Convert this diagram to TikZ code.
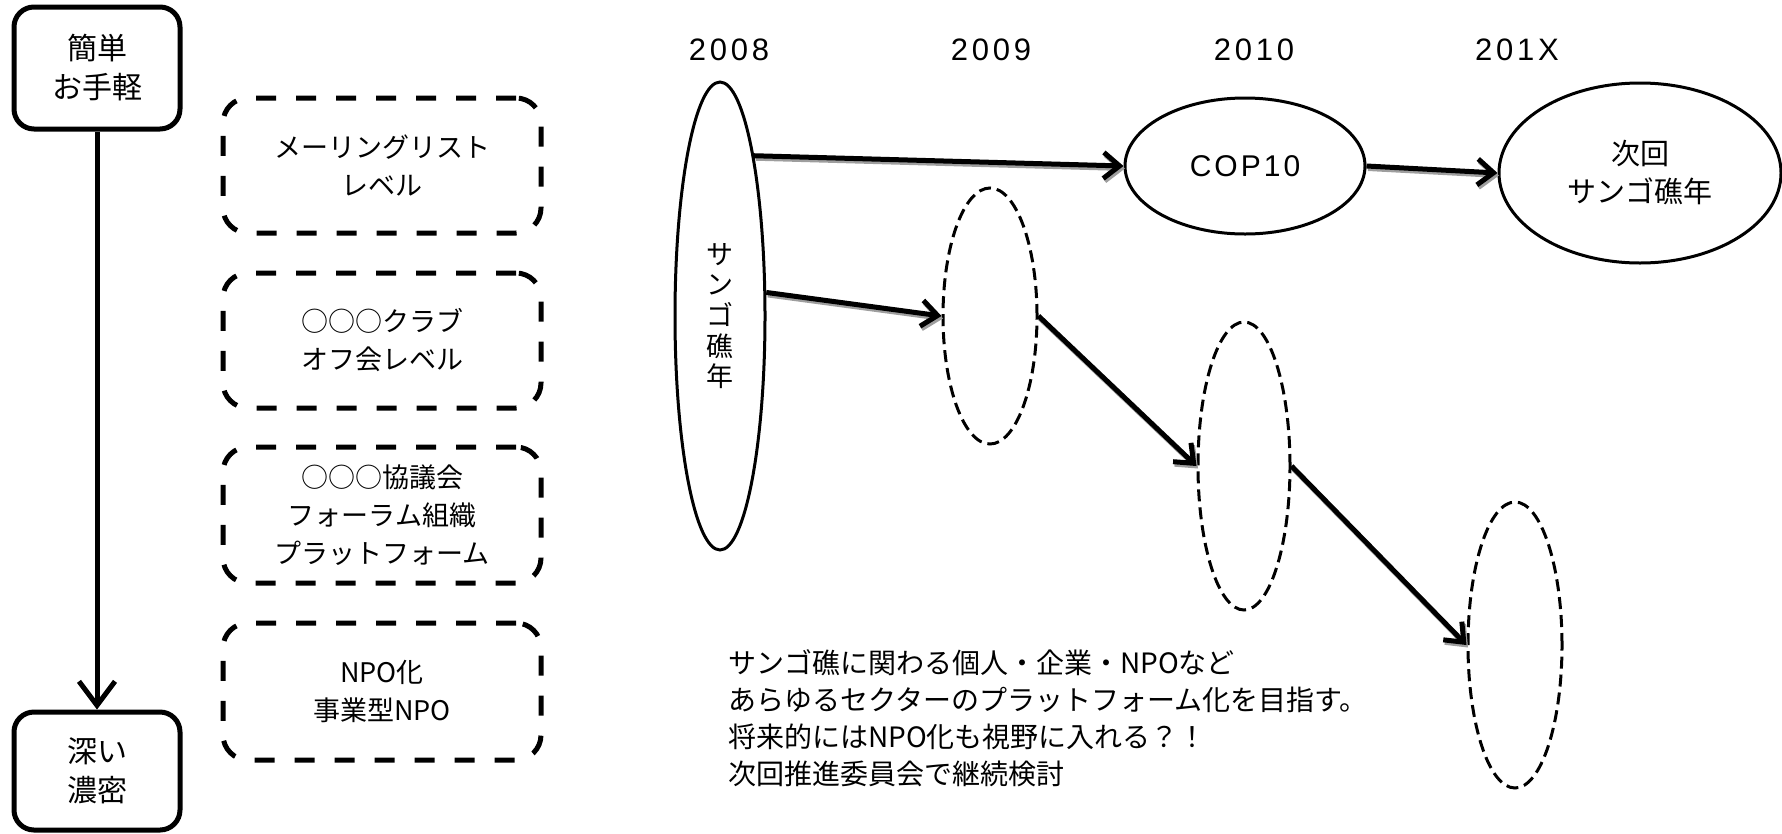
\documentclass[tikz,border=0pt]{standalone}
\usepackage{fontspec}
\setmainfont{Noto Sans CJK JP}
\newfontfamily\yearf[LetterSpace=12]{Liberation Sans}
\newfontfamily\copf[LetterSpace=10]{Liberation Sans}
\usetikzlibrary{shapes.geometric,arrows.meta}
\tikzset{
  endbox/.style={draw, line width=5pt, rounded corners=20pt, minimum width=166pt,
    inner sep=0pt, align=center, font=\fontsize{30}{39}\selectfont},
  levelbox/.style={draw, line width=5pt, dash pattern=on 20pt off 20pt, rounded corners=25pt,
    minimum width=318pt, inner sep=0pt, align=center, font=\fontsize{27}{38}\selectfont},
  yearlbl/.style={font=\yearf\fontsize{31}{36}\selectfont, inner sep=0pt},
  solidell/.style={draw, ellipse, line width=3pt, inner sep=0pt},
  dashell/.style={draw, ellipse, line width=3pt, dash pattern=on 12pt off 6pt, inner sep=0pt},
  flowtip/.style={line width=5pt, -{Straight Barb[length=16pt,width=26pt]}},
  flow/.style={flowtip, draw=black},
  flowshadow/.style={flowtip, draw=black!38},
  depth/.style={line width=5pt, -{Straight Barb[length=24pt,width=36pt]}},
  note/.style={anchor=west, align=left, inner sep=0pt, font=\fontsize{28}{37}\selectfont},
}
\begin{document}
\begin{tikzpicture}[x=1pt,y=-1pt]
\useasboundingbox (0,0) rectangle (1782,833);

% left scale
\node[endbox, minimum height=122pt] (easy) at (97,68) {簡単\\お手軽};
\node[endbox, minimum height=118pt] (deep) at (97,771) {深い\\濃密};
\draw[depth] (easy.south) -- (deep.north);

% level boxes
\node[levelbox, minimum height=135pt] (lv1) at (382,165.5) {メーリングリスト\\レベル};
\node[levelbox, minimum height=135pt] (lv2) at (382,340.5) {○○○クラブ\\オフ会レベル};
\node[levelbox, minimum height=136pt] (lv3) at (382,515) {○○○協議会\\フォーラム組織\\プラットフォーム};
\node[levelbox, minimum height=137pt] (lv4) at (382,691.5) {NPO化\\事業型NPO};

% years
\node[yearlbl] (y2008) at (729,50) {2008};
\node[yearlbl] (y2009) at (991,50) {2009};
\node[yearlbl] (y2010) at (1254,50) {2010};
\node[yearlbl] (y201x) at (1517,50) {201X};

% ellipses
\node[solidell, minimum width=90pt, minimum height=468pt, align=center,
  font=\fontsize{27}{30.6}\selectfont] (sango) at (720,316) {サ\\ン\\ゴ\\礁\\年};
\node[solidell, minimum width=240pt, minimum height=136pt,
  font=\copf\fontsize{30}{36}\selectfont] (cop) at (1245,166) {COP10};
\node[solidell, minimum width=282pt, minimum height=180pt, align=center,
  font=\fontsize{29}{38}\selectfont] (next) at (1640,173) {次回\\サンゴ礁年};
\node[dashell, minimum width=94pt, minimum height=256pt] (e2009) at (990,316) {};
\node[dashell, minimum width=92pt, minimum height=288pt] (e2010) at (1244,466) {};
\node[dashell, minimum width=94pt, minimum height=286pt] (e201x) at (1515,645) {};

% connector shadows
\begin{scope}[transform canvas={xshift=1.5pt,yshift=-2.5pt}]
\draw[flowshadow] (sango.78) -- (cop.west);
\draw[flowshadow] (cop.east) -- (next.west);
\draw[flowshadow] (sango.27) -- (e2009.west);
\draw[flowshadow] (e2009.east) -- (e2010.west);
\draw[flowshadow] (e2010.east) -- (e201x.west);
\end{scope}

% connectors
\draw[flow] (sango.78) -- (cop.west);
\draw[flow] (cop.east) -- (next.west);
\draw[flow] (sango.27) -- (e2009.west);
\draw[flow] (e2009.east) -- (e2010.west);
\draw[flow] (e2010.east) -- (e201x.west);

% note
\node[note] (memo) at (728,718.5) {サンゴ礁に関わる個人・企業・NPOなど\\あらゆるセクターのプラットフォーム化を目指す。\\将来的にはNPO化も視野に入れる？！\\次回推進委員会で継続検討};
\end{tikzpicture}
\end{document}
